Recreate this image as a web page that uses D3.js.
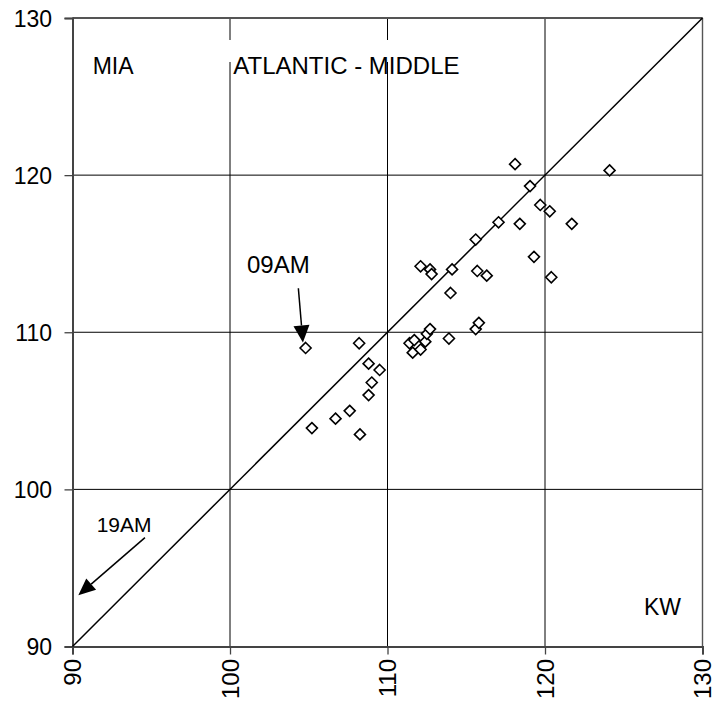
<!DOCTYPE html>
<html>
<head>
<meta charset="utf-8">
<script src="https://cdn.jsdelivr.net/npm/d3@7"></script>
<style>
  html, body { margin: 0; padding: 0; background: #fff; }
  svg { display: block; font-family: "Liberation Sans", Arial, sans-serif; }
</style>
</head>
<body>
<svg id="chart" width="714" height="709"></svg>
<script>
// ---- data ----
const kw  = [104.8, 108.2, 108.8, 109.5, 109.0, 108.8, 107.6, 106.7, 105.2, 108.25,
             111.4, 111.7, 112.4, 111.6, 112.1, 112.5, 112.7, 113.9, 115.6, 115.8,
             114.0, 112.1, 112.7, 112.8, 114.1, 115.7, 116.3, 115.6, 117.05, 118.4,
             119.05, 119.7, 120.3, 121.7, 119.3, 120.4, 118.1, 124.1];
const mia = [109.0, 109.3, 108.0, 107.6, 106.8, 106.0, 105.0, 104.5, 103.9, 103.5,
             109.3, 109.5, 109.4, 108.7, 108.9, 109.9, 110.2, 109.6, 110.2, 110.6,
             112.5, 114.2, 114.0, 113.7, 114.0, 113.9, 113.6, 115.9, 117.0, 116.9,
             119.3, 118.1, 117.7, 116.9, 114.8, 113.5, 120.7, 120.3];
const xTicks = [90, 100, 110, 120, 130];
const yTicks = [90, 100, 110, 120, 130];
const domain = [90, 130];
const title = "ATLANTIC - MIDDLE";
const yName = "MIA";
const xName = "KW";
const notes = [
  { label: "09AM", from: [104.34, 112.8], to: [104.63, 109.35] },
  { label: "19AM", from: [94.6, 96.93], to: [90.37, 93.26] }
];

// ---- layout ----
const svg = d3.select("#chart");
const L = 72.5, R = 702.5, T = 18, B = 646.5;
const x = d3.scaleLinear().domain(domain).range([L, R]);
const y = d3.scaleLinear().domain(domain).range([B, T]);

// grid
const g = svg.append("g");
g.selectAll("line.vg").data(xTicks.slice(1)).join("line")
  .attr("x1", d => x(d)).attr("x2", d => x(d)).attr("y1", T).attr("y2", B)
  .attr("stroke", "#000").attr("stroke-width", 1);
g.selectAll("line.hg").data(yTicks.slice(1)).join("line")
  .attr("x1", L).attr("x2", R).attr("y1", d => y(d)).attr("y2", d => y(d))
  .attr("stroke", "#000").attr("stroke-width", 1);
// top / right border emphasised
svg.append("line").attr("x1", L).attr("x2", R).attr("y1", T).attr("y2", T)
  .attr("stroke", "#555").attr("stroke-width", 1.8);
svg.append("line").attr("x1", R).attr("x2", R).attr("y1", T).attr("y2", B)
  .attr("stroke", "#555").attr("stroke-width", 1.4);

// white box behind the title
svg.append("rect").attr("x", 229).attr("y", 40).attr("width", 242).attr("height", 22)
  .attr("fill", "#fff");

// axes
const xAxis = svg.append("g").attr("transform", `translate(0,${B})`)
  .call(d3.axisBottom(x).tickValues(xTicks).tickSize(8).tickPadding(4));
xAxis.select(".domain").attr("stroke", "#444").attr("stroke-width", 2);
xAxis.selectAll(".tick line").attr("stroke", "#444").attr("stroke-width", 1.3);
xAxis.selectAll(".tick text")
  .attr("font-size", 24).attr("fill", "#000")
  .attr("text-anchor", "end")
  .attr("transform", "rotate(-90)")
  .attr("x", -12.5).attr("y", 0).attr("dy", "0.35em");

const yAxis = svg.append("g").attr("transform", `translate(${L},0)`)
  .call(d3.axisLeft(y).tickValues(yTicks).tickSize(8).tickPadding(12));
yAxis.select(".domain").attr("stroke", "#444").attr("stroke-width", 2);
yAxis.selectAll(".tick line").attr("stroke", "#444").attr("stroke-width", 1.3);
yAxis.selectAll(".tick text").attr("font-size", 23).attr("fill", "#000")
  .attr("x", -20.5).attr("dy", "0.35em");

// diagonal y = x
svg.append("line")
  .attr("x1", x(domain[0])).attr("y1", y(domain[0]))
  .attr("x2", x(domain[1])).attr("y2", y(domain[1]))
  .attr("stroke", "#000").attr("stroke-width", 1.5);

// points (diamonds)
const pts = kw.map((v, i) => [v, mia[i]]);
svg.append("g").selectAll("path").data(pts).join("path")
  .attr("transform", d => `translate(${x(d[0])},${y(d[1])})`)
  .attr("d", "M0,-5.5L5.5,0L0,5.5L-5.5,0Z")
  .attr("fill", "#fff").attr("stroke", "#000").attr("stroke-width", 1.6);

// labels
svg.append("text").attr("x", 92.7).attr("y", 74).attr("font-size", 23).text(yName);
svg.append("text").attr("x", 233.3).attr("y", 74).attr("font-size", 24).text(title);
svg.append("text").attr("x", 644).attr("y", 615).attr("font-size", 23).text(xName);

// annotations with arrows
function arrow(n, headLen, headW) {
  const x1 = x(n.from[0]), y1 = y(n.from[1]), x2 = x(n.to[0]), y2 = y(n.to[1]);
  const a = Math.atan2(y2 - y1, x2 - x1);
  const bx = x2 - headLen * Math.cos(a), by = y2 - headLen * Math.sin(a);
  svg.append("line").attr("x1", x1).attr("y1", y1).attr("x2", bx).attr("y2", by)
    .attr("stroke", "#000").attr("stroke-width", 1.5);
  const px = -Math.sin(a) * headW / 2, py = Math.cos(a) * headW / 2;
  svg.append("path")
    .attr("d", `M${x2},${y2}L${bx + px},${by + py}L${bx - px},${by - py}Z`)
    .attr("fill", "#000");
}
arrow(notes[0], 17, 16);
arrow(notes[1], 17, 15);
svg.append("text").attr("x", 247).attr("y", 273).attr("font-size", 24).text(notes[0].label);
svg.append("text").attr("x", 96.7).attr("y", 531.7).attr("font-size", 21).text(notes[1].label);
</script>
</body>
</html>
